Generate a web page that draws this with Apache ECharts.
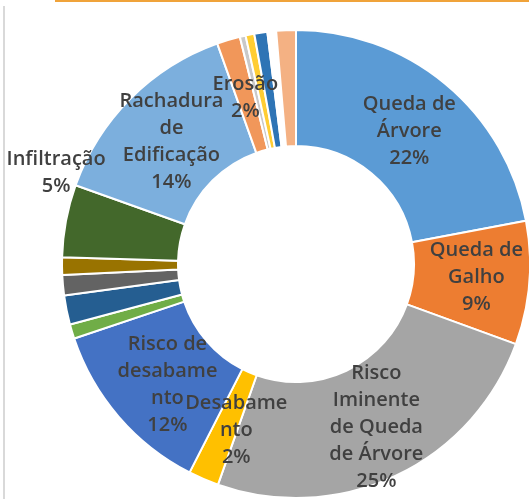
<!DOCTYPE html>
<html>
<head>
<meta charset="utf-8">
<script src="https://cdn.jsdelivr.net/npm/echarts@6/dist/echarts.min.js"></script>
<style>
  html, body { margin: 0; padding: 0; background: #fff; }
  #chart { width: 529px; height: 499px; }
</style>
</head>
<body>
<div id="chart"></div>
<script>
// categorias na ordem do gráfico (sentido horário a partir das 12h)
const categorias = ['Queda de Árvore', 'Queda de Galho', 'Risco Iminente de Queda de Árvore', 'Desabamento',
  'Risco de desabamento', 'Categoria 6', 'Categoria 7', 'Categoria 8', 'Categoria 9', 'Infiltração',
  'Rachadura de Edificação', 'Erosão', 'Categoria 13', 'Categoria 14', 'Categoria 15', 'Categoria 16', 'Categoria 17']
// percentuais
const valores = [22, 8.5, 24.8, 2.1, 12.3, 1.0, 2.0, 1.4, 1.2, 5.0, 14.05, 1.6, 0.4, 0.6, 0.9, 0.6, 1.35]
// textos dos rótulos ('' = sem rótulo)
const rotulos = ['Queda de\nÁrvore\n22%', 'Queda de\nGalho\n9%', 'Risco\nIminente\nde Queda\nde Árvore\n25%',
  'Desabame\nnto\n2%', 'Risco de\ndesabame\nnto\n12%', '', '', '', '', 'Infiltração\n5%',
  'Rachadura\nde\nEdificação\n14%', 'Erosão\n2%', '', '', '', '', '']
const cores = ['#5B9BD5', '#ED7D31', '#A5A5A5', '#FFC000', '#4472C4', '#70AD47', '#255E91', '#636363',
  '#997300', '#43682B', '#7CAFDD', '#F1975A', '#C9C9C9', '#FFCD33', '#2E74B5', '#FFFFFF', '#F4B183']
// deslocamento dos rótulos em relação à posição 'inside'
const ajusteX = [-1, 2, 4, 11, 7, 0, 0, 0, 0, -64, 2, 1, 0, 0, 0, 0, 0]
const ajusteY = [5, -1, 1, 2, 4, 0, 0, 0, 0, -58, 4, 5, 0, 0, 0, 0, 0]

const myChart = echarts.init(document.getElementById('chart'))
const option = {
  animation: false,
  graphic: [
    { type: 'rect', shape: { x: 55, y: 0, width: 474, height: 2 }, style: { fill: '#F0A33A' } },
    { type: 'rect', shape: { x: 3, y: 6, width: 2, height: 493 }, style: { fill: '#D9D9D9' } }
  ],
  series: [
    {
      type: 'pie',
      center: [296, 264],
      radius: [118, 234],
      startAngle: 90,
      clockwise: true,
      avoidLabelOverlap: false,
      itemStyle: { borderColor: '#fff', borderWidth: 2 },
      label: {
        show: true,
        position: 'inside',
        color: '#404040',
        fontFamily: 'Open Sans',
        fontSize: 20,
        fontWeight: 600,
        lineHeight: 27,
        align: 'center',
        formatter: function (p) { return rotulos[p.dataIndex] }
      },
      labelLine: { show: false },
      labelLayout: function (p) {
        return { dx: ajusteX[p.dataIndex], dy: ajusteY[p.dataIndex] }
      },
      data: categorias.map(function (c, i) {
        return { name: c, value: valores[i], itemStyle: { color: cores[i] } }
      })
    }
  ]
}
myChart.setOption(option)
</script>
</body>
</html>
